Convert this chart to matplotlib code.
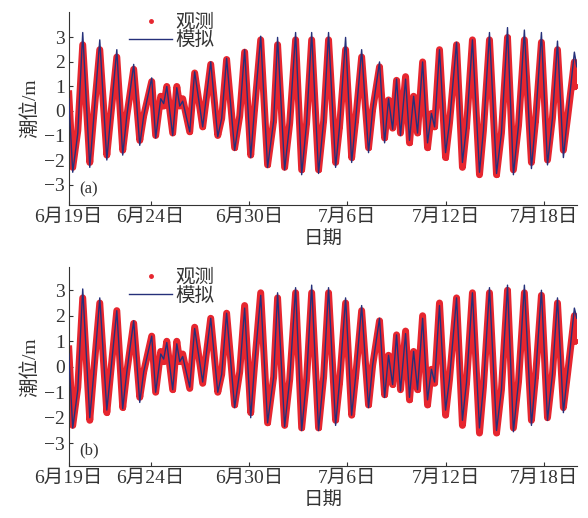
import matplotlib
matplotlib.use('Agg')
import matplotlib.pyplot as plt

plt.rcParams['font.family'] = ['Liberation Serif', 'Noto Sans CJK SC']
plt.rcParams['axes.unicode_minus'] = True

# time of each high/low/shoulder point, days after 6/19 00:00
t = [0.00, 0.24, 0.55, 0.85, 1.28, 1.52, 1.89, 2.32, 2.56, 2.93,
     3.29, 3.54, 3.96, 4.33, 4.57, 5.06, 5.30, 5.61, 5.79, 5.98,
     6.34, 6.59, 6.77, 6.95, 7.38, 7.68, 8.17, 8.66, 9.09, 9.33,
     9.63, 10.12, 10.43, 10.73, 11.10, 11.34, 11.71, 12.13, 12.50, 12.74,
     13.17, 13.48, 13.84, 14.21, 14.51, 14.82, 15.24, 15.55, 15.85, 16.28,
     16.52, 16.89, 17.26, 17.50, 17.87, 18.29, 18.54, 18.96, 19.27, 19.51,
     19.76, 20.00, 20.24, 20.55, 20.79, 21.04, 21.28, 21.59, 21.89, 22.13,
     22.32, 22.62, 22.99, 23.23, 23.66, 24.02, 24.27, 24.63, 25.06, 25.30,
     25.67, 26.10, 26.40, 26.77, 27.13, 27.44, 27.80, 28.23, 28.48, 28.84,
     29.21, 29.51, 29.82, 30.18, 30.43, 30.85, 31.00]

# observed tide level (m)
obs = [0.7, -2.3, -0.8, 2.7, -2.1, -0.2, 2.5, -1.8, -0.2, 2.2,
       -1.6, -0.2, 1.7, -1.2, -0.2, 1.2, -1.0, 0.6, 0.2, 1.0,
       -0.9, 1.0, 0.2, 0.5, -0.85, 1.55, -0.65, 1.9, -1.0, -0.3,
       2.1, -1.5, -0.2, 2.4, -1.8, 0.1, 2.9, -2.2, -0.4, 2.7,
       -2.3, -0.5, 2.9, -2.4, -0.5, 2.9, -2.4, -0.4, 2.9, -2.1,
       -0.65, 2.5, -1.9, -0.4, 2.2, -1.5, 0.05, 1.8, -1.1, 0.45,
       -0.7, 1.25, -0.9, 1.4, -1.3, 0.6, -0.9, 2.0, -1.5, -0.1,
       -0.65, 2.5, -1.9, -0.5, 2.7, -2.3, -0.65, 2.9, -2.6, -0.8,
       2.9, -2.6, -0.9, 3.0, -2.4, -0.6, 2.9, -2.1, -0.4, 2.8,
       -2.0, -0.3, 2.5, -1.6, -0.3, 2.0, 1.0]

# simulated tide level, panel (a)
sim_a = [0.5, -2.5, -0.9, 3.2, -2.3, -0.3, 2.9, -2.0, -0.2, 2.5,
         -1.8, -0.2, 1.9, -1.4, -0.2, 1.35, -1.1, 0.5, 0.3, 1.0,
         -1.0, 0.95, 0.2, 0.4, -0.85, 1.6, -0.65, 2.0, -1.05, -0.3,
         2.15, -1.6, -0.2, 2.5, -1.9, 0.15, 3.05, -2.3, -0.4, 3.0,
         -2.4, -0.5, 3.2, -2.6, -0.5, 3.2, -2.55, -0.4, 3.2, -2.3,
         -0.65, 3.0, -2.1, -0.4, 2.5, -1.7, 0.05, 2.0, -1.3, 0.5,
         -0.75, 1.3, -1.0, 1.3, -1.2, 0.6, -0.9, 2.0, -1.3, -0.1,
         -0.65, 2.5, -1.7, -0.5, 2.8, -2.1, -0.65, 2.9, -2.5, -0.8,
         3.2, -2.55, -0.9, 3.4, -2.6, -0.6, 3.3, -2.35, -0.4, 3.2,
         -2.2, -0.3, 2.85, -1.9, -0.25, 2.4, 1.8]

# simulated tide level, panel (b)
sim_b = [0.5, -2.4, -0.9, 3.05, -2.0, -0.3, 2.7, -1.7, -0.2, 2.2,
         -1.65, -0.2, 1.8, -1.4, -0.2, 1.2, -1.0, 0.5, 0.3, 0.95,
         -0.9, 0.9, 0.2, 0.4, -0.8, 1.5, -0.6, 1.9, -1.0, -0.3,
         2.1, -1.6, -0.2, 2.3, -2.0, 0.1, 2.8, -2.2, -0.4, 2.9,
         -2.35, -0.5, 3.1, -2.5, -0.5, 3.2, -2.5, -0.4, 3.1, -2.3,
         -0.6, 2.7, -1.9, -0.4, 2.4, -1.6, 0.05, 1.9, -1.2, 0.45,
         -0.7, 1.25, -0.95, 1.3, -1.2, 0.6, -0.9, 1.9, -1.3, -0.1,
         -0.6, 2.4, -1.7, -0.5, 2.7, -2.1, -0.6, 2.9, -2.4, -0.8,
         3.1, -2.5, -0.9, 3.2, -2.55, -0.6, 3.2, -2.3, -0.4, 3.0,
         -2.1, -0.3, 2.7, -1.8, -0.3, 2.3, 1.9]

tick_days = [0, 5, 11, 17, 23, 29]
tick_labels = ['6月19日', '6月24日', '6月30日', '7月6日', '7月12日', '7月18日']
yticks = [-3, -2, -1, 0, 1, 2, 3]

red = '#e6262f'
blue = '#25307a'
grey = '#333333'

fig = plt.figure(figsize=(5.88, 5.18), dpi=100)
ax_a = fig.add_axes([0.117, 0.604, 0.864, 0.373])
ax_b = fig.add_axes([0.117, 0.100, 0.864, 0.384])


def draw(ax, sim, ylim, tag):
    ax.plot(t, obs, color=red, lw=5.0, solid_joinstyle='round', zorder=2)
    ax.plot(t, obs, '.', color=red, ms=5, label='观测', zorder=2)
    ax.plot(t, sim, color=blue, lw=1.0, label='模拟', zorder=3)
    ax.set_xlim(0, 31)
    ax.set_ylim(*ylim)
    ax.set_xticks(tick_days)
    ax.set_xticklabels(tick_labels)
    ax.set_yticks(yticks)
    ax.tick_params(direction='in', length=3, labelsize=14, colors=grey, pad=3)
    for s in ['top', 'right']:
        ax.spines[s].set_visible(False)
    for s in ['left', 'bottom']:
        ax.spines[s].set_color(grey)
    ax.set_ylabel('潮位/m', fontsize=14, color=grey, labelpad=3)
    ax.set_xlabel('日期', fontsize=14, color=grey, labelpad=3)
    ax.text(0.02, 0.04, tag, transform=ax.transAxes, fontsize=12, color=grey,
            ha='left', va='bottom')
    ax.legend(loc='upper left', bbox_to_anchor=(0.1, 1.04), frameon=False,
              fontsize=14, handlelength=2.2, handletextpad=0.15,
              labelspacing=0.0, borderpad=0, labelcolor=grey)


draw(ax_a, sim_a, (-3.84, 4.04), '(a)')
draw(ax_b, sim_b, (-3.9, 3.9), '(b)')

fig.savefig('out.png', dpi=100)
